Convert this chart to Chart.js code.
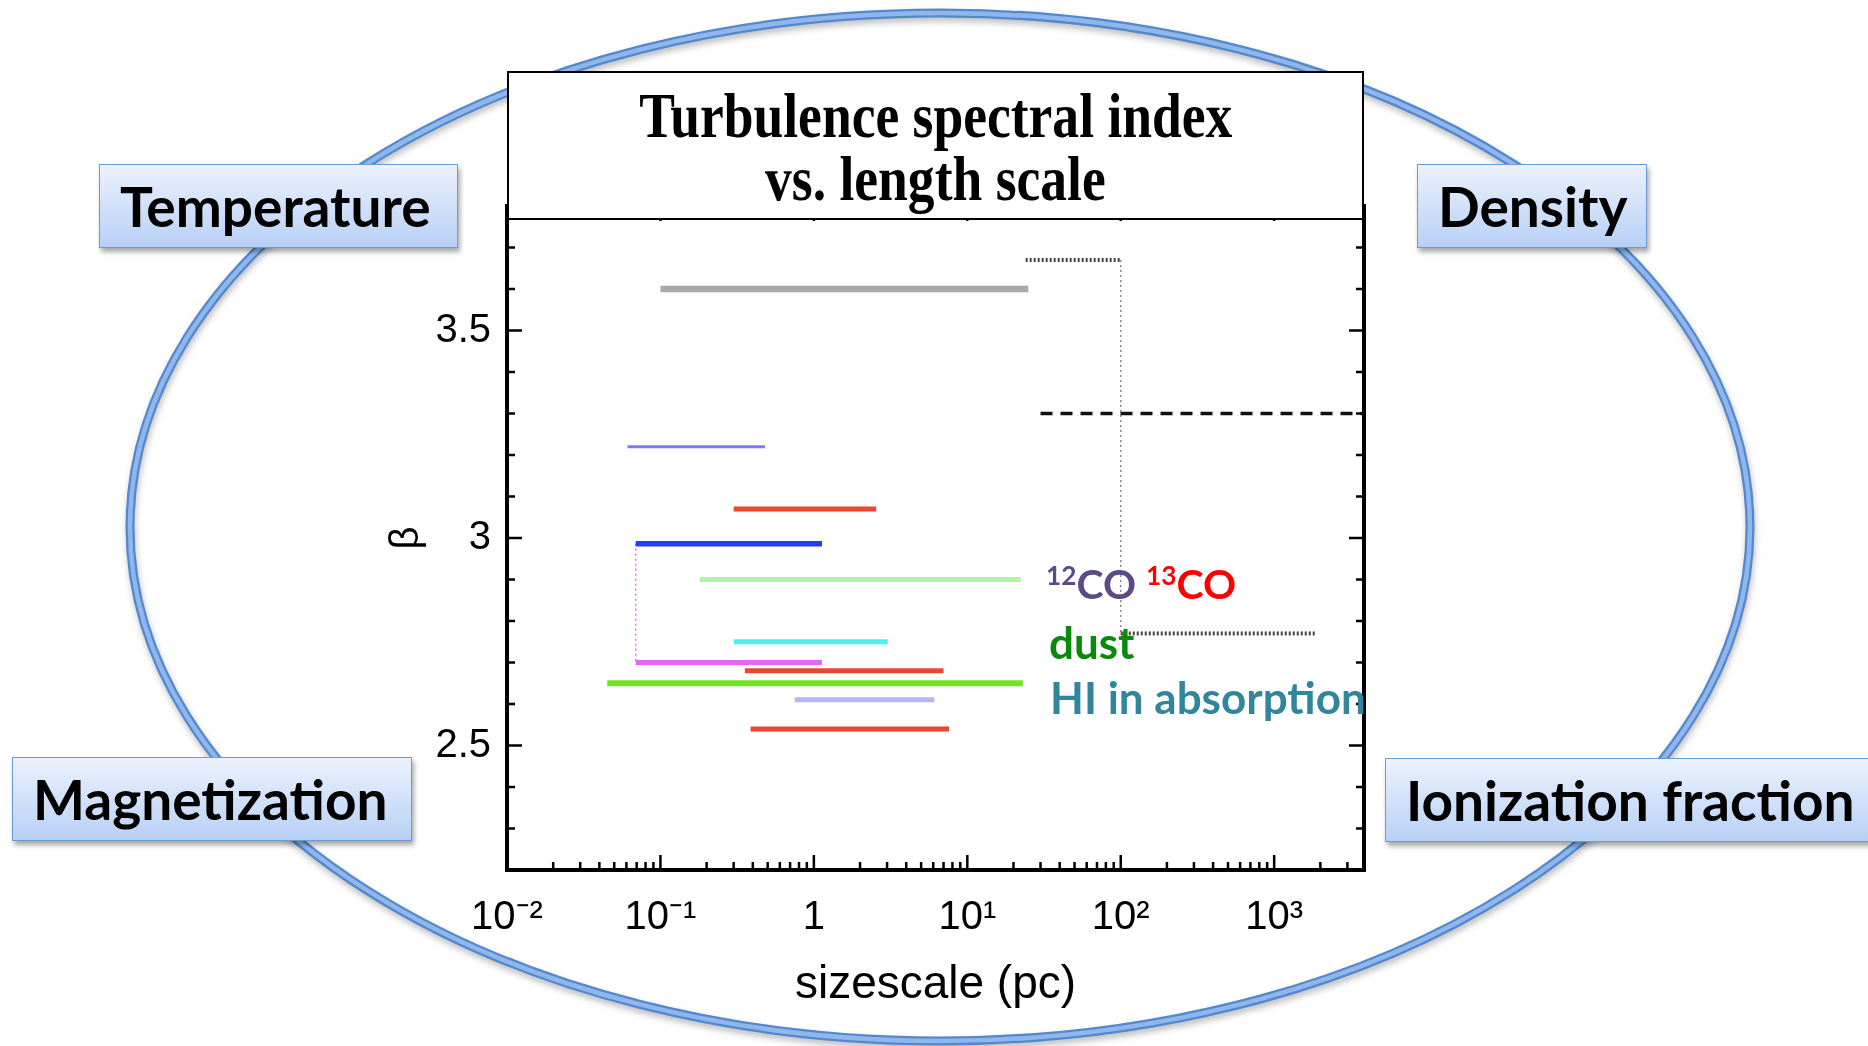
<!DOCTYPE html>
<html>
<head>
<meta charset="utf-8">
<script src="https://cdn.jsdelivr.net/npm/chart.js@4.4.1/dist/chart.umd.min.js"></script>
<style>
  html, body { margin: 0; padding: 0; background: #fff; }
  #page { position: relative; width: 1868px; height: 1046px; overflow: hidden; background: #fff; }
  #ring { position: absolute; left: 0; top: 0; z-index: 1; filter: drop-shadow(1px 4px 3px rgba(0,0,0,0.25)); }
  #plot { position: absolute; left: 0; top: 0; z-index: 2; }
  .tag {
    position: absolute; z-index: 3; box-sizing: border-box; height: 84px;
    display: flex; align-items: center; padding-left: 20px;
    background: linear-gradient(#ecf2fd, #b8d0f6);
    border: 1.5px solid #6b9bd6;
    box-shadow: 2px 4px 5px rgba(0,0,0,0.35);
    font-family: Lato, sans-serif; font-weight: bold; font-size: 55px; color: #000; white-space: nowrap;
  }
  #title {
    position: absolute; z-index: 3; left: 507px; top: 71px; width: 857px; height: 149px;
    box-sizing: border-box; border: 2px solid #000; background: #fff;
    text-align: center; padding-top: 12px;
    font-family: "Liberation Serif", serif; font-weight: bold; font-size: 63px; line-height: 63px;
  }
  #title span { display: inline-block; transform: scaleX(0.85); white-space: nowrap; }
  .note { position: absolute; z-index: 4; font-family: Lato, sans-serif; font-weight: bold; font-size: 44px; line-height: 1; white-space: nowrap; }
  .note sup { font-size: 0.64em; vertical-align: 0.55em; line-height: 0; }
</style>
</head>
<body>
<div id="page">
  <svg id="ring" width="1868" height="1046">
    <ellipse cx="940" cy="527" rx="810" ry="514" fill="none" stroke="#5388cc" stroke-width="9"/>
    <ellipse cx="940" cy="527" rx="810" ry="514" fill="none" stroke="#8fb7ee" stroke-width="4.5"/>
  </svg>
  <canvas id="plot" width="1868" height="1046"></canvas>

  <div id="title"><span>Turbulence spectral index</span><br><span>vs. length scale</span></div>

  <div class="tag" style="left:99px; top:164px; width:359px;">Temperature</div>
  <div class="tag" style="left:1417px; top:164px; width:230px;">Density</div>
  <div class="tag" style="left:12px; top:757px; width:400px;">Magnetization</div>
  <div class="tag" style="left:1385px; top:758px; width:520px;">Ionization fraction</div>

  <div class="note" style="left:1046px; top:563px; font-size:41px;"><span style="color:#5b4a86"><sup>12</sup>CO</span> <span style="color:#ff0000"><sup>13</sup>CO</span></div>
  <div class="note" style="left:1049px; top:620px; color:#0a8a0a;">dust</div>
  <div class="note" style="left:1050px; top:675px; color:#31869c;">HI in absorption</div>
</div>

<script>
// measured ranges: size scale (pc) start/end and spectral index beta
var segNames  = ['grey', 'blue thin', 'red 1', 'blue', 'light green', 'magenta', 'cyan', 'red 2', 'green', 'lavender', 'red 3', 'dotted upper', 'dashed', 'dotted lower'];
var segXStart = [0.1, 0.061, 0.30, 0.069, 0.18, 0.069, 0.30, 0.355, 0.045, 0.75, 0.387, 24, 30, 100];
var segXEnd   = [25, 0.48, 2.55, 1.13, 22.3, 1.13, 3.03, 7.0, 23, 6.1, 7.6, 100, 3850, 1850];
var segBeta   = [3.60, 3.22, 3.07, 2.986, 2.90, 2.70, 2.75, 2.68, 2.65, 2.61, 2.54, 3.67, 3.30, 2.77];

// vertical connectors
var linkNames  = ['dotted step', 'magenta link'];
var linkX      = [100, 0.069];
var linkTop    = [3.67, 2.986];
var linkBottom = [2.77, 2.70];

// axes
var xTickValues = [0.01, 0.1, 1, 10, 100, 1000];
var xTickLabels = ['10\u207B\u00B2', '10\u207B\u00B9', '1', '10\u00B9', '10\u00B2', '10\u00B3'];
var yTickValues = [2.5, 3, 3.5];
var yTickLabels = ['2.5', '3', '3.5'];
var xMin = 0.01, xMax = 3850, yMin = 2.2, yMax = 3.8;

// line styles
var segColors = ['#a9a9a9', '#7a7af6', '#e8482f', '#2a3ef0', '#b8f0a6', '#e468f2', '#4ef0f5', '#e8482f', '#76e421', '#b6b6f2', '#e8482f', '#444444', '#111111', '#444444'];
var segWidths = [6.5, 3, 5, 5.5, 5, 5, 5, 5, 6, 5, 5, 4, 3.5, 4];
var segDashes = [[], [], [], [], [], [], [], [], [], [], [], [2, 2], [12, 8], [2, 2]];
var linkColors = ['#8a8a8a', '#e070f0'];

var datasets = [];
for (var i = 0; i < segNames.length; i++) {
  datasets.push({
    label: segNames[i],
    data: [{x: segXStart[i], y: segBeta[i]}, {x: segXEnd[i], y: segBeta[i]}],
    borderColor: segColors[i],
    borderWidth: segWidths[i],
    borderDash: segDashes[i]
  });
}
for (var j = 0; j < linkNames.length; j++) {
  datasets.push({
    label: linkNames[j],
    data: [{x: linkX[j], y: linkTop[j]}, {x: linkX[j], y: linkBottom[j]}],
    borderColor: linkColors[j],
    borderWidth: 1.5,
    borderDash: [2, 3]
  });
}

// frame with inward ticks, IDL style
var framePlugin = {
  id: 'frame',
  afterDraw: function(chart) {
    var ctx = chart.ctx, a = chart.chartArea;
    var xs = chart.scales.x, ys = chart.scales.y;
    ctx.save();
    ctx.strokeStyle = '#000';
    ctx.lineWidth = 2.5;
    ctx.beginPath();
    for (var d = xMin; d < xMax; d *= 10) {
      for (var k = 1; k < 10; k++) {
        var v = d * k;
        if (v > xMax) break;
        var px = xs.getPixelForValue(v);
        var len = k === 1 ? 15 : 8;
        ctx.moveTo(px, a.bottom); ctx.lineTo(px, a.bottom - len);
        ctx.moveTo(px, a.top); ctx.lineTo(px, a.top + len);
      }
    }
    for (var t = 22; t <= 38; t++) {
      var py = ys.getPixelForValue(t / 10);
      var l2 = t % 5 === 0 ? 15 : 8;
      ctx.moveTo(a.left, py); ctx.lineTo(a.left + l2, py);
      ctx.moveTo(a.right, py); ctx.lineTo(a.right - l2, py);
    }
    ctx.stroke();
    ctx.lineWidth = 4;
    ctx.strokeRect(a.left, a.top, a.right - a.left, a.bottom - a.top);
    ctx.restore();
  }
};

var ctx = document.getElementById('plot').getContext('2d');
var chart = new Chart(ctx, {
  type: 'line',
  data: { datasets: datasets },
  plugins: [framePlugin],
  options: {
    responsive: false,
    animation: false,
    layout: { padding: { left: 0, right: 504, top: 206, bottom: 0 } },
    elements: {
      point: { radius: 0 },
      line: { borderCapStyle: 'butt', tension: 0 }
    },
    plugins: { legend: { display: false }, tooltip: { enabled: false } },
    scales: {
      x: {
        type: 'logarithmic',
        min: xMin, max: xMax,
        grid: { display: false, drawTicks: false },
        border: { display: false },
        afterBuildTicks: function(s) { s.ticks = xTickValues.map(function(v) { return {value: v}; }); },
        afterFit: function(s) { s.height = 176; },
        ticks: {
          autoSkip: false, maxRotation: 0, padding: 24, color: '#000',
          font: { family: 'Liberation Sans', size: 40 },
          callback: function(v) { return xTickLabels[xTickValues.indexOf(v)]; }
        },
        title: {
          display: true, text: 'sizescale (pc)', color: '#000',
          font: { family: 'Liberation Sans', size: 46 },
          padding: { top: 0, bottom: 33 }
        }
      },
      y: {
        type: 'linear',
        min: yMin, max: yMax,
        grid: { display: false, drawTicks: false },
        border: { display: false },
        afterBuildTicks: function(s) { s.ticks = yTickValues.map(function(v) { return {value: v}; }); },
        afterFit: function(s) { s.width = 507; },
        ticks: {
          autoSkip: false, padding: 16, color: '#000',
          font: { family: 'Liberation Sans', size: 40 },
          callback: function(v) { return yTickLabels[yTickValues.indexOf(v)]; }
        },
        title: {
          display: true, text: '\u03B2', color: '#000',
          font: { family: 'Liberation Sans', size: 40 },
          padding: { top: 383, bottom: 0 }
        }
      }
    }
  }
});
</script>
</body>
</html>
